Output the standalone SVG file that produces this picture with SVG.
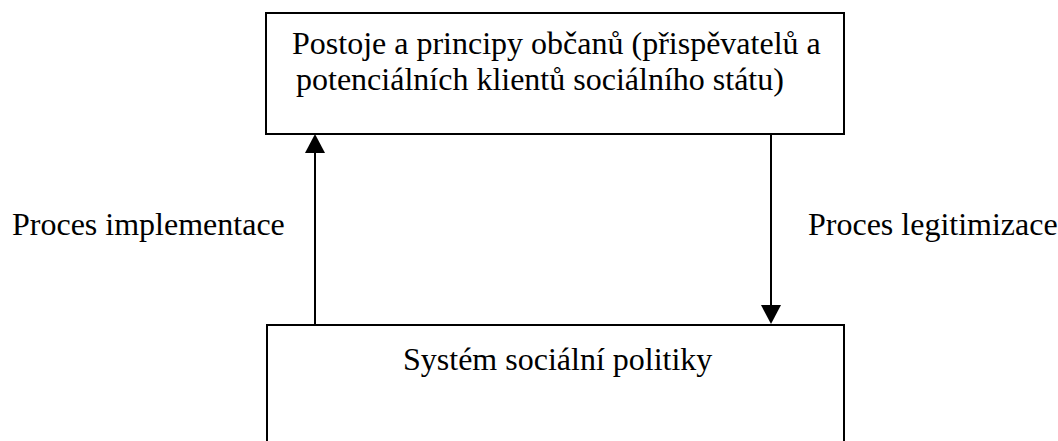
<svg xmlns="http://www.w3.org/2000/svg" width="1058" height="441" viewBox="0 0 1058 441">
<style>
.box{fill:#fff;stroke:#000;stroke-width:2}
.t{font-family:"Liberation Serif","Times New Roman",serif;font-size:32px;fill:#000}
.c{stroke:#000;stroke-width:2;fill:none}
.h{fill:#000}
</style>
<rect width="1058" height="441" fill="#fff"/>
<g id="node-postoje">
<rect class="box" x="266" y="13" width="578" height="121"/>
<text class="t" x="292" y="54">Postoje a principy občanů (přispěvatelů a</text>
<text class="t" x="296" y="90">potenciálních klientů sociálního státu)</text>
</g>
<g id="node-system">
<rect class="box" x="267" y="325" width="577" height="130"/>
<text class="t" x="403" y="370">Systém sociální politiky</text>
</g>
<g id="connectors">
<line class="c" x1="315" y1="325" x2="315" y2="150"/>
<polygon class="h" points="315,134 305,153 325,153"/>
<line class="c" x1="771" y1="134" x2="771" y2="308"/>
<polygon class="h" points="771,324 761,305 781,305"/>
<text class="t" x="12" y="235">Proces implementace</text>
<text class="t" x="808" y="235">Proces legitimizace</text>
</g>
</svg>
